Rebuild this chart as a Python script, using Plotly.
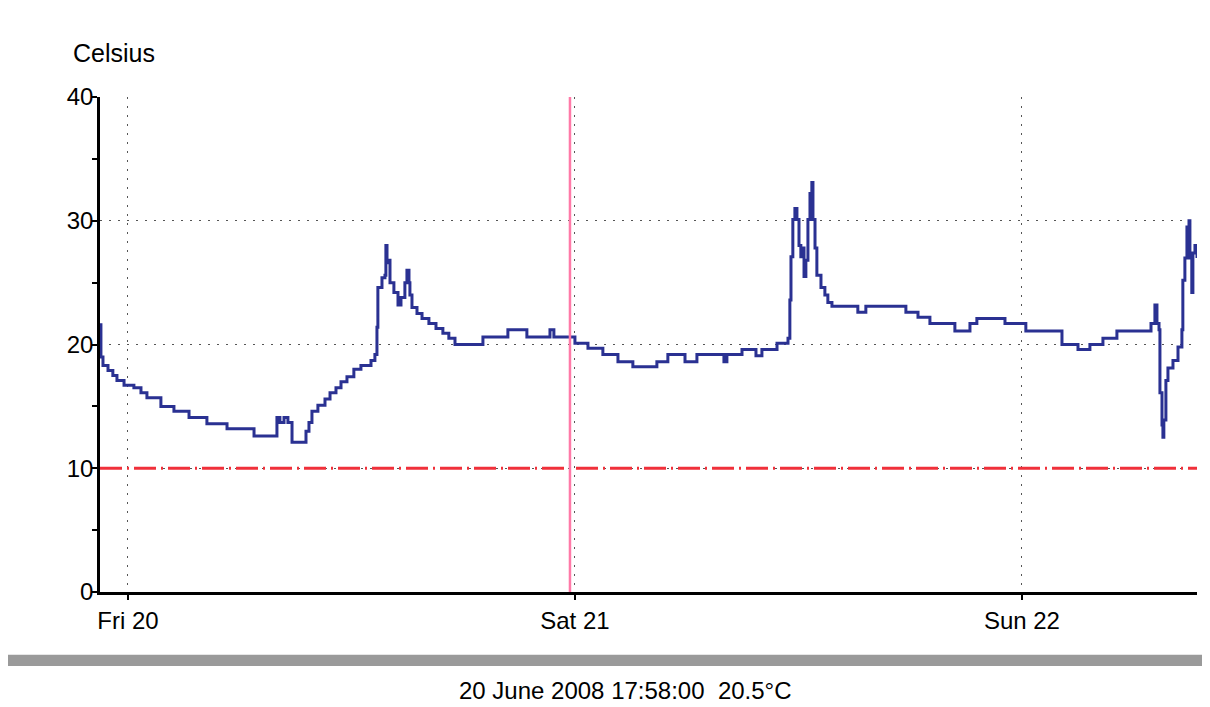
import pandas as pd
import plotly.graph_objects as go

# hours since Fri 20 June 2008 00:00, and temperature (Celsius) at each step
hours = [-1.50, -1.45, -1.34, -1.07, -0.81, -0.59, -0.21, 0.32, 0.70, 1.02,
         1.77, 2.47, 3.28, 4.24, 5.32, 6.77, 8.00, 8.16, 8.38, 8.59,
         8.81, 9.56, 9.72, 9.88, 10.20, 10.58, 10.85, 11.17, 11.44, 11.76,
         12.13, 12.51, 13.05, 13.26, 13.37, 13.42, 13.64, 13.80, 13.85, 13.91,
         13.96, 14.07, 14.28, 14.50, 14.66, 14.87, 14.98, 15.09, 15.14, 15.25,
         15.52, 15.79, 16.16, 16.54, 16.91, 17.23, 17.56, 19.06, 20.40, 21.42,
         22.66, 22.87, 24.00, 24.70, 25.50, 26.31, 27.11, 28.40, 28.99, 29.91,
         30.55, 32.00, 32.16, 32.97, 33.72, 34.04, 34.85, 35.44, 35.54, 35.60,
         35.70, 35.81, 35.92, 36.03, 36.13, 36.24, 36.30, 36.40, 36.51, 36.62,
         36.72, 36.78, 36.89, 36.99, 37.21, 37.42, 37.58, 37.80, 39.19, 39.62,
         41.77, 42.42, 43.06, 44.40, 45.21, 45.58, 47.09, 48.21, 50.15, 51.01,
         51.65, 52.35, 53.10, 54.93, 55.14, 55.25, 55.36, 55.41, 55.52, 55.57,
         55.62, 55.73, 55.84, 56.11, 56.38, 56.59, 56.64, 56.75, 56.86, 56.97,
         57.02, 57.12, 57.18, 57.29, 57.40]
temps = [21.6, 19.0, 18.3, 17.9, 17.5, 17.1, 16.7, 16.5, 16.1, 15.7,
         15.0, 14.6, 14.1, 13.6, 13.2, 12.6, 14.1, 13.7, 14.1, 13.7,
         12.1, 13.0, 13.7, 14.6, 15.1, 15.6, 16.1, 16.5, 17.0, 17.4,
         18.0, 18.3, 18.7, 19.2, 21.4, 24.6, 25.4, 25.6, 28.0, 26.6,
         26.8, 25.0, 24.2, 23.2, 23.8, 25.0, 26.0, 25.0, 24.0, 23.0,
         22.5, 22.1, 21.7, 21.3, 20.9, 20.5, 20.0, 20.6, 21.2, 20.6,
         21.2, 20.6, 20.1, 19.7, 19.2, 18.6, 18.2, 18.6, 19.2, 18.6,
         19.2, 18.6, 19.2, 19.6, 19.1, 19.6, 20.1, 20.5, 23.6, 27.1,
         30.1, 31.0, 30.1, 28.0, 27.1, 27.8, 25.5, 26.8, 30.1, 32.2,
         33.1, 30.1, 27.8, 25.6, 24.6, 24.0, 23.4, 23.1, 22.6, 23.1,
         22.6, 22.2, 21.7, 21.1, 21.7, 22.1, 21.7, 21.1, 20.0, 19.6,
         20.0, 20.5, 21.1, 21.7, 23.2, 21.7, 21.2, 16.1, 13.5, 12.5,
         13.9, 17.1, 18.1, 18.7, 19.8, 21.2, 25.2, 27.0, 29.5, 30.0,
         27.0, 24.2, 27.4, 28.0, 27.0]

start = pd.Timestamp("2008-06-20 00:00")
times = start + pd.to_timedelta(hours, unit="h")

day_ticks = ["2008-06-20", "2008-06-21", "2008-06-22"]
day_labels = ["Fri 20", "Sat 21", "Sun 22"]
y_ticks = [0, 10, 20, 30, 40]
alarm_level = 10
cursor_time = "2008-06-20 23:44"
x_range = ["2008-06-19 22:30", "2008-06-22 09:24"]
caption = "20 June 2008 17:58:00  20.5°C"

FONT = "Liberation Sans"
TXT = "#000000"

fig = go.Figure()
fig.add_trace(go.Scatter(
    x=times, y=temps, mode="lines", line_shape="hv",
    line=dict(color="#2a3192", width=3), showlegend=False,
))

# alarm threshold line
fig.add_shape(type="line", xref="paper", x0=0, x1=1, yref="y",
              y0=alarm_level, y1=alarm_level,
              line=dict(color="#f0303a", width=3, dash="22px,5px,2px,5px"))
# cursor line
fig.add_shape(type="line", xref="x", x0=cursor_time, x1=cursor_time,
              yref="paper", y0=0, y1=1,
              line=dict(color="#ff7aa8", width=2.5))
# grey separator band
fig.add_shape(type="rect", xref="paper", yref="paper",
              x0=-0.0866, x1=1.012, y0=-0.1495, y1=-0.127,
              fillcolor="#9a9a9a", line=dict(width=0), layer="above")

fig.add_annotation(text="Celsius", xref="paper", yref="paper",
                   x=-0.026, y=1.089, xanchor="left", yanchor="middle",
                   showarrow=False,
                   font=dict(family=FONT, size=25, color=TXT))
fig.add_annotation(text=caption, xref="paper", yref="paper",
                   x=0.4786, y=-0.198, xanchor="center", yanchor="middle",
                   showarrow=False,
                   font=dict(family=FONT, size=24, color=TXT))

fig.update_layout(
    width=1202, height=699,
    margin=dict(l=92, r=13, t=89, b=115),
    paper_bgcolor="white", plot_bgcolor="white",
    font=dict(family=FONT, size=22, color=TXT),
    xaxis=dict(
        type="date", range=x_range,
        tickvals=day_ticks, ticktext=day_labels,
        showgrid=True, gridcolor="#555", griddash="2px,7px", gridwidth=1,
        showline=True, linecolor="black", linewidth=2.5,
        ticks="outside", ticklen=5, tickwidth=2, tickcolor="black",
        zeroline=False, fixedrange=True,
        tickfont=dict(size=24, color=TXT),
    ),
    yaxis=dict(
        range=[0, 40], tickvals=y_ticks,
        showgrid=True, gridcolor="#555", griddash="2px,7px", gridwidth=1,
        showline=True, linecolor="black", linewidth=2.5,
        ticks="outside", ticklen=5, tickwidth=2, tickcolor="black",
        minor=dict(dtick=5, ticks="outside", ticklen=5, tickwidth=2,
                   tickcolor="black", showgrid=False),
        zeroline=False, ticklabelstandoff=-6,
        tickfont=dict(size=24, color=TXT),
    ),
)

fig.write_html("out.html")
